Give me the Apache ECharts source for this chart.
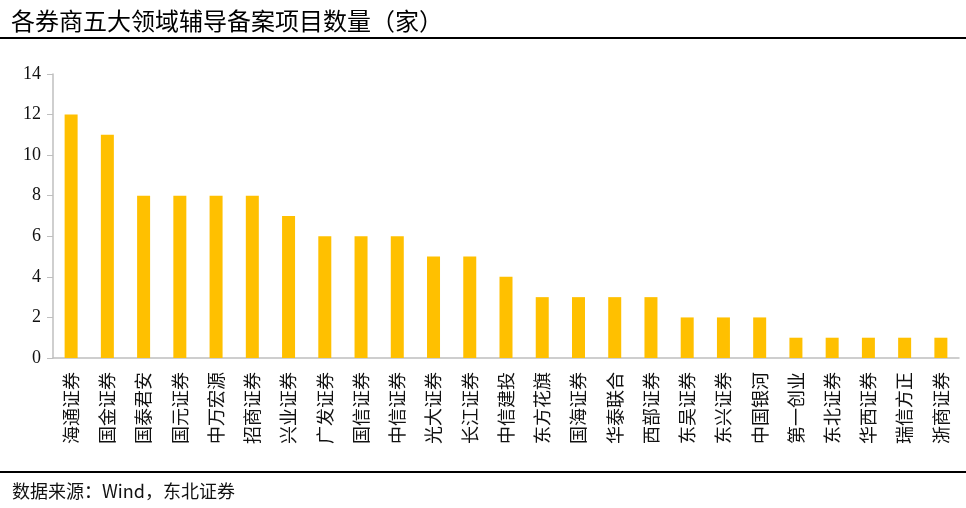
<!DOCTYPE html>
<html><head><meta charset="utf-8">
<script src="https://cdn.jsdelivr.net/npm/echarts@6/dist/echarts.min.js"></script>
<style>html,body{margin:0;padding:0;background:#fff}#c{width:966px;height:508px}</style>
</head><body><div id="c"></div>
<script>
const titleText = '各券商五大领域辅导备案项目数量（家）';
const sourceText = '数据来源：Wind，东北证券';
const categories = ['海通证券','国金证券','国泰君安','国元证券','中万宏源','招商证券','兴业证券','广发证券','国信证券','中信证券','光大证券','长江证券','中信建投','东方花旗','国海证券','华泰联合','西部证券','东吴证券','东兴证券','中国银河','第一创业','东北证券','华西证券','瑞信方正','浙商证券'];
const values = [12,11,8,8,8,8,7,6,6,6,5,5,4,3,3,3,3,2,2,2,1,1,1,1,1];
const yTicks = {min:0, max:14, interval:2};

const chart = echarts.init(document.getElementById('c'));
chart.setOption({
  animation:false,
  backgroundColor:'#fff',
  title:{text:titleText,left:6,top:4,textStyle:{fontFamily:'Noto Sans CJK SC',fontSize:24,fontWeight:'normal',color:'#000'}},
  graphic:[
    {type:'line',shape:{x1:0,y1:38,x2:966,y2:38},style:{stroke:'#000',lineWidth:2}},
    {type:'line',shape:{x1:0,y1:472,x2:966,y2:472},style:{stroke:'#000',lineWidth:2}},
    {type:'text',left:12,top:482,style:{text:sourceText,fontFamily:'Noto Sans CJK SC',fontSize:18,fill:'#111'}}
  ],
  grid:{left:53,right:7,top:74,bottom:150,containLabel:false},
  xAxis:{type:'category',data:categories,
    axisLine:{lineStyle:{color:'#bfbfbf',width:1.5}},axisTick:{show:false},
    axisLabel:{rotate:90,interval:0,margin:14,fontFamily:'Noto Sans CJK SC',fontSize:18,color:'#111'}},
  yAxis:{type:'value',min:yTicks.min,max:yTicks.max,interval:yTicks.interval,
    splitLine:{show:false},
    axisLine:{show:true,lineStyle:{color:'#bfbfbf',width:1.5}},
    axisTick:{show:true,length:6,lineStyle:{color:'#bfbfbf'}},
    axisLabel:{fontFamily:'Liberation Serif',fontSize:18,color:'#111',margin:12}},
  series:[{type:'bar',data:values,barWidth:13,itemStyle:{color:'#FFC000'}}]
});
</script></body></html>
